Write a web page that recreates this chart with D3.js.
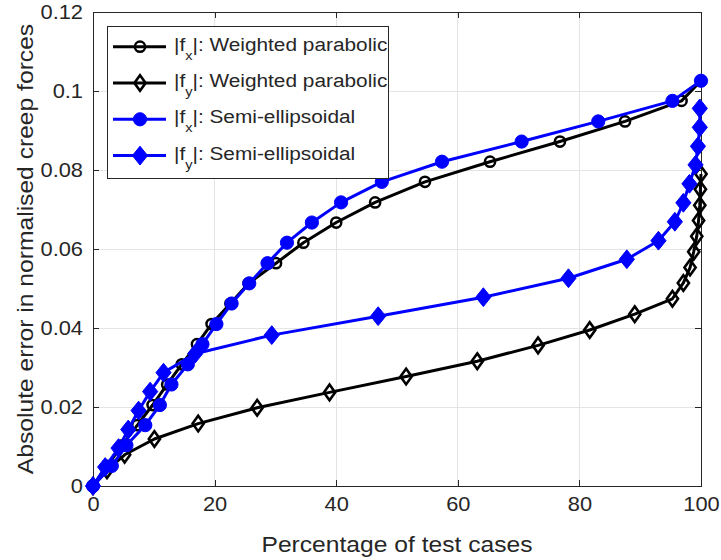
<!DOCTYPE html>
<html><head><meta charset="utf-8">
<script src="https://cdn.jsdelivr.net/npm/d3@7"></script>
<style>
body{margin:0;background:#fff}
svg text{font-family:"Liberation Sans",Arial,Helvetica,sans-serif;fill:#262626}
</style>
</head><body>
<svg id="c" width="721" height="560"></svg>
<script>
// ---- data ----
const xTicks = [0, 20, 40, 60, 80, 100];
const yTicks = [0, 0.02, 0.04, 0.06, 0.08, 0.1, 0.12];
const yTickLabels = ["0", "0.02", "0.04", "0.06", "0.08", "0.1", "0.12"];

// |fx| weighted parabolic
const pctFxWP = [0, 2.3, 4.8, 7.3, 9.8, 12.2, 14.6, 17.1, 19.5, 22.6, 25.6, 30.1, 34.6, 40.0, 46.4, 54.6, 65.3, 76.8, 87.5, 96.8, 100];
const errFxWP = [0, 0.0051, 0.0103, 0.0154, 0.0205, 0.0257, 0.0308, 0.0359, 0.0410, 0.0462, 0.0513, 0.0564, 0.0616, 0.0667, 0.0718, 0.0770, 0.0821, 0.0872, 0.0923, 0.0975, 0.1026];
// |fy| weighted parabolic
const pctFyWP = [0, 2.3, 5.2, 10.1, 17.3, 27.0, 38.9, 51.5, 63.2, 73.2, 81.7, 89.1, 95.3, 97.1, 98.2, 98.8, 99.3, 99.6, 99.8, 99.9, 100];
const errFyWP = [0, 0.0040, 0.0079, 0.0119, 0.0158, 0.0198, 0.0237, 0.0277, 0.0316, 0.0356, 0.0395, 0.0435, 0.0474, 0.0514, 0.0553, 0.0593, 0.0632, 0.0672, 0.0711, 0.0751, 0.0790];
// |fx| semi-ellipsoidal
const pctFxSE = [0, 3.1, 5.5, 8.6, 11.0, 12.9, 15.6, 18.0, 20.3, 22.8, 25.7, 28.7, 31.9, 36.0, 40.8, 47.5, 57.4, 70.5, 83.1, 95.3, 100];
const errFxSE = [0, 0.0051, 0.0103, 0.0154, 0.0205, 0.0257, 0.0308, 0.0359, 0.0410, 0.0462, 0.0513, 0.0564, 0.0616, 0.0667, 0.0718, 0.0770, 0.0821, 0.0872, 0.0923, 0.0975, 0.1026];
// |fy| semi-ellipsoidal
const pctFySE = [0, 2.0, 4.2, 5.8, 7.5, 9.4, 11.6, 16.8, 29.4, 46.9, 64.2, 78.2, 87.8, 93.0, 95.7, 97.1, 98.1, 99.1, 99.5, 99.8, 99.8];
const errFySE = [0, 0.0048, 0.0096, 0.0143, 0.0191, 0.0239, 0.0287, 0.0335, 0.0382, 0.0430, 0.0478, 0.0526, 0.0574, 0.0621, 0.0669, 0.0717, 0.0765, 0.0813, 0.0860, 0.0908, 0.0956];

const seriesLabels = [["|f", "x", "|: Weighted parabolic"], ["|f", "y", "|: Weighted parabolic"], ["|f", "x", "|: Semi-ellipsoidal"], ["|f", "y", "|: Semi-ellipsoidal"]];
const xLabel = "Percentage of test cases";
const yLabel = "Absolute error in normalised creep forces";

// ---- drawing ----
const SX = 1.12;
const svg = d3.select("#c");
const L = 93, R = 701, T = 12, B = 486;
const x = d3.scaleLinear().domain([0, 100]).range([L, R]);
const y = d3.scaleLinear().domain([0, 0.12]).range([B, T]);

const series = [
  {px: pctFxWP, py: errFxWP, color: "#000", marker: "circleOpen"},
  {px: pctFyWP, py: errFyWP, color: "#000", marker: "diamondOpen"},
  {px: pctFxSE, py: errFxSE, color: "#0000ff", marker: "circleFill"},
  {px: pctFySE, py: errFySE, color: "#0000ff", marker: "diamondFill"}
];

// grid
const grid = svg.append("g").attr("stroke", "#e4e4e4").attr("stroke-width", 1).attr("shape-rendering", "crispEdges");
grid.selectAll("line.gx").data(xTicks).join("line").attr("class", "gx")
  .attr("x1", d => x(d)).attr("x2", d => x(d)).attr("y1", T).attr("y2", B);
grid.selectAll("line.gy").data(yTicks).join("line").attr("class", "gy")
  .attr("y1", d => y(d)).attr("y2", d => y(d)).attr("x1", L).attr("x2", R);

// axes
const axCol = "#262626";
function styleAxis(g) {
  g.select(".domain").remove();
  g.selectAll(".tick line").attr("stroke", axCol).attr("shape-rendering", "crispEdges");
}
const gB = svg.append("g").attr("transform", `translate(0,${B})`)
  .call(d3.axisBottom(x).tickValues(xTicks).tickSize(-6).tickSizeOuter(0).tickPadding(11).tickFormat(d3.format("d")));
styleAxis(gB);
gB.selectAll(".tick text").attr("font-size", 19.5).attr("fill", axCol).attr("transform", `scale(${SX},1)`);

const gL = svg.append("g").attr("transform", `translate(${L},0)`)
  .call(d3.axisLeft(y).tickValues(yTicks).tickSize(-6).tickSizeOuter(0).tickPadding(10).tickFormat((d, i) => yTickLabels[i]));
styleAxis(gL);
gL.selectAll(".tick text").attr("font-size", 19.5).attr("fill", axCol)
  .attr("x", -10 / SX).attr("transform", `scale(${SX},1)`);

const gT = svg.append("g").attr("transform", `translate(0,${T})`)
  .call(d3.axisTop(x).tickValues(xTicks).tickSize(-6).tickSizeOuter(0).tickFormat(""));
styleAxis(gT);
const gR = svg.append("g").attr("transform", `translate(${R},0)`)
  .call(d3.axisRight(y).tickValues(yTicks).tickSize(-6).tickSizeOuter(0).tickFormat(""));
styleAxis(gR);

svg.append("rect").attr("x", L).attr("y", T).attr("width", R - L).attr("height", B - T)
  .attr("fill", "none").attr("stroke", axCol).attr("stroke-width", 1).attr("shape-rendering", "crispEdges");

// axis labels
svg.append("text").attr("font-size", 22).attr("text-anchor", "middle")
  .attr("transform", `translate(${(L + R) / 2},552) scale(${SX},1)`).text(xLabel);
svg.append("text").attr("font-size", 22).attr("text-anchor", "middle")
  .attr("transform", `translate(33,${(T + B) / 2}) rotate(-90) scale(${SX},1)`).text(yLabel);

// markers
function marker(g, type, color, cx, cy) {
  if (type === "circleOpen") {
    g.append("circle").attr("cx", cx).attr("cy", cy).attr("r", 5.1)
      .attr("fill", "none").attr("stroke", color).attr("stroke-width", 2.5);
  } else if (type === "circleFill") {
    g.append("circle").attr("cx", cx).attr("cy", cy).attr("r", 6.6)
      .attr("fill", color).attr("stroke", color).attr("stroke-width", 1);
  } else if (type === "diamondOpen") {
    const w = 5.6, h = 7.8;
    g.append("path").attr("d", `M${cx},${cy - h}L${cx + w},${cy}L${cx},${cy + h}L${cx - w},${cy}Z`)
      .attr("fill", "none").attr("stroke", color).attr("stroke-width", 2.6).attr("stroke-linejoin", "miter");
  } else {
    const w = 7.6, h = 9.4;
    g.append("path").attr("d", `M${cx},${cy - h}L${cx + w},${cy}L${cx},${cy + h}L${cx - w},${cy}Z`)
      .attr("fill", color).attr("stroke", color).attr("stroke-width", 1);
  }
}

const lineGen = d3.line().x(d => x(d[0])).y(d => y(d[1]));
series.forEach(s => {
  const pts = s.px.map((v, i) => [v, s.py[i]]);
  const g = svg.append("g");
  g.append("path").attr("d", lineGen(pts)).attr("fill", "none")
    .attr("stroke", s.color).attr("stroke-width", 3).attr("stroke-linejoin", "round");
  pts.forEach(p => marker(g, s.marker, s.color, x(p[0]), y(p[1])));
});

// legend
const lg = svg.append("g");
lg.append("rect").attr("x", 107.5).attr("y", 26.5).attr("width", 281).attr("height", 152)
  .attr("fill", "#fff").attr("stroke", axCol).attr("stroke-width", 1).attr("shape-rendering", "crispEdges");
const rowY = [46.7, 83, 119.3, 155.6];
series.forEach((s, i) => {
  const cy = rowY[i];
  lg.append("line").attr("x1", 113).attr("x2", 166).attr("y1", cy).attr("y2", cy)
    .attr("stroke", s.color).attr("stroke-width", 3);
  marker(lg, s.marker, s.color, 140, cy);
  const t = lg.append("text").attr("font-size", 18.6).attr("fill", "#000")
    .attr("transform", `translate(174,${cy + 4}) scale(${SX},1)`);
  const lab = seriesLabels[i];
  t.append("tspan").text(lab[0]);
  t.append("tspan").attr("font-size", 13).attr("dy", 9).text(lab[1]);
  t.append("tspan").attr("dy", -9).text(lab[2]);
});
</script>
</body></html>
